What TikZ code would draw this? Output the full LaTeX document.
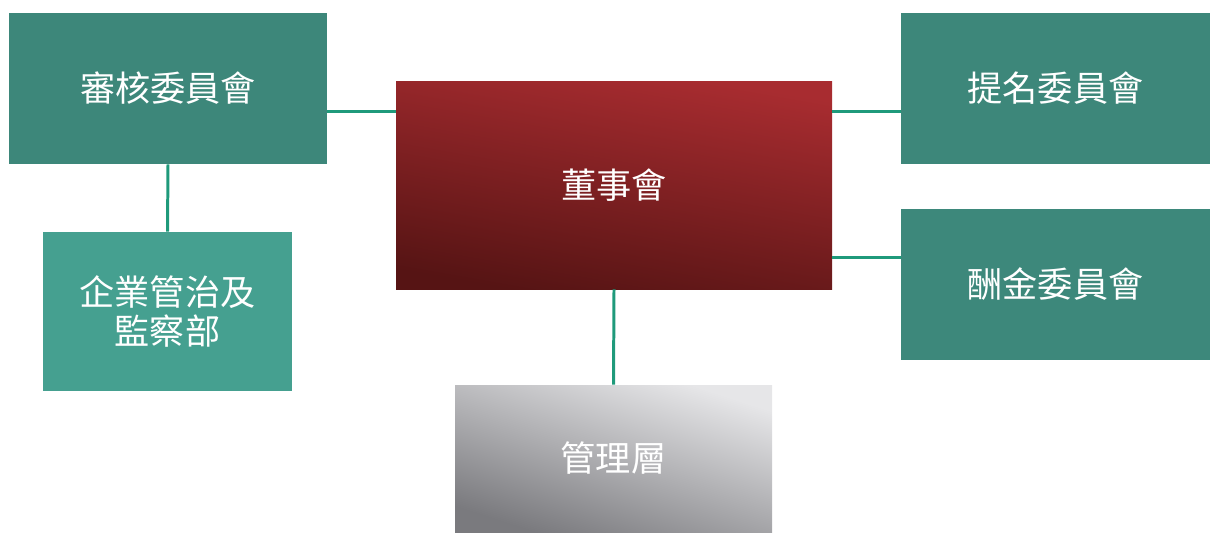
\documentclass[tikz,border=0pt]{standalone}
\usepackage{fontspec}
\newfontfamily\cjk{Noto Sans CJK TC}
\definecolor{tealbox}{HTML}{3D877A}
\definecolor{tealsub}{HTML}{45A090}
\definecolor{linkteal}{HTML}{1F9A7B}
\definecolor{boardtop}{HTML}{A82C30}
\definecolor{boardbot}{HTML}{561414}
\definecolor{mgmttop}{HTML}{E6E6E8}
\definecolor{mgmtbot}{HTML}{7A7A7E}
\tikzset{
  unit/.style={rectangle, inner sep=0pt, text=white, font=\cjk\fontsize{20}{22}\selectfont, align=center},
  committee/.style={unit, fill=tealbox, minimum width=6.18cm, minimum height=3.02cm},
  link/.style={draw=linkteal, line width=1.7pt}
}
\begin{document}
\begin{tikzpicture}
        \useasboundingbox (0,0) rectangle (24.2,-10.64);
        \node[committee, minimum width=6.36cm] at (3.36,-1.77) (audit) {審核委員會};
        \node[unit, fill=tealsub, minimum width=4.98cm, minimum height=3.18cm] at (3.35,-6.23) (corp) {企業管治及\\監察部};
        \node[unit, minimum width=8.72cm, minimum height=4.16cm, shading=axis, top color=boardtop, bottom color=boardbot, shading angle=-10] at (12.28,-3.70) (board) {董事會};
        \node[committee] at (21.11,-1.77) (nomin) {提名委員會};
        \node[committee, fill=tealbox!95!tealsub] at (21.11,-5.69) (remun) {酬金委員會};
        \node[unit, minimum width=6.34cm, minimum height=2.94cm, shading=axis, top color=mgmttop, bottom color=mgmtbot, shading angle=-18] at (12.27,-9.17) (mgmt) {管理層};
        \coordinate (bl) at ([yshift=-0.62cm]board.north west);
        \coordinate (br) at ([yshift=-0.62cm]board.north east);
        \coordinate (bs) at ([yshift=0.64cm]board.south east);
        \draw[link] (bl) -- (bl -| audit.east);
        \draw[link] (br) -- (br -| nomin.west);
        \draw[link] (bs) -- (bs -| remun.west);
        \draw[link] (audit.south) -- (corp.north);
        \draw[link] (board.south) -- (mgmt.north);
      \end{tikzpicture}
\end{document}
